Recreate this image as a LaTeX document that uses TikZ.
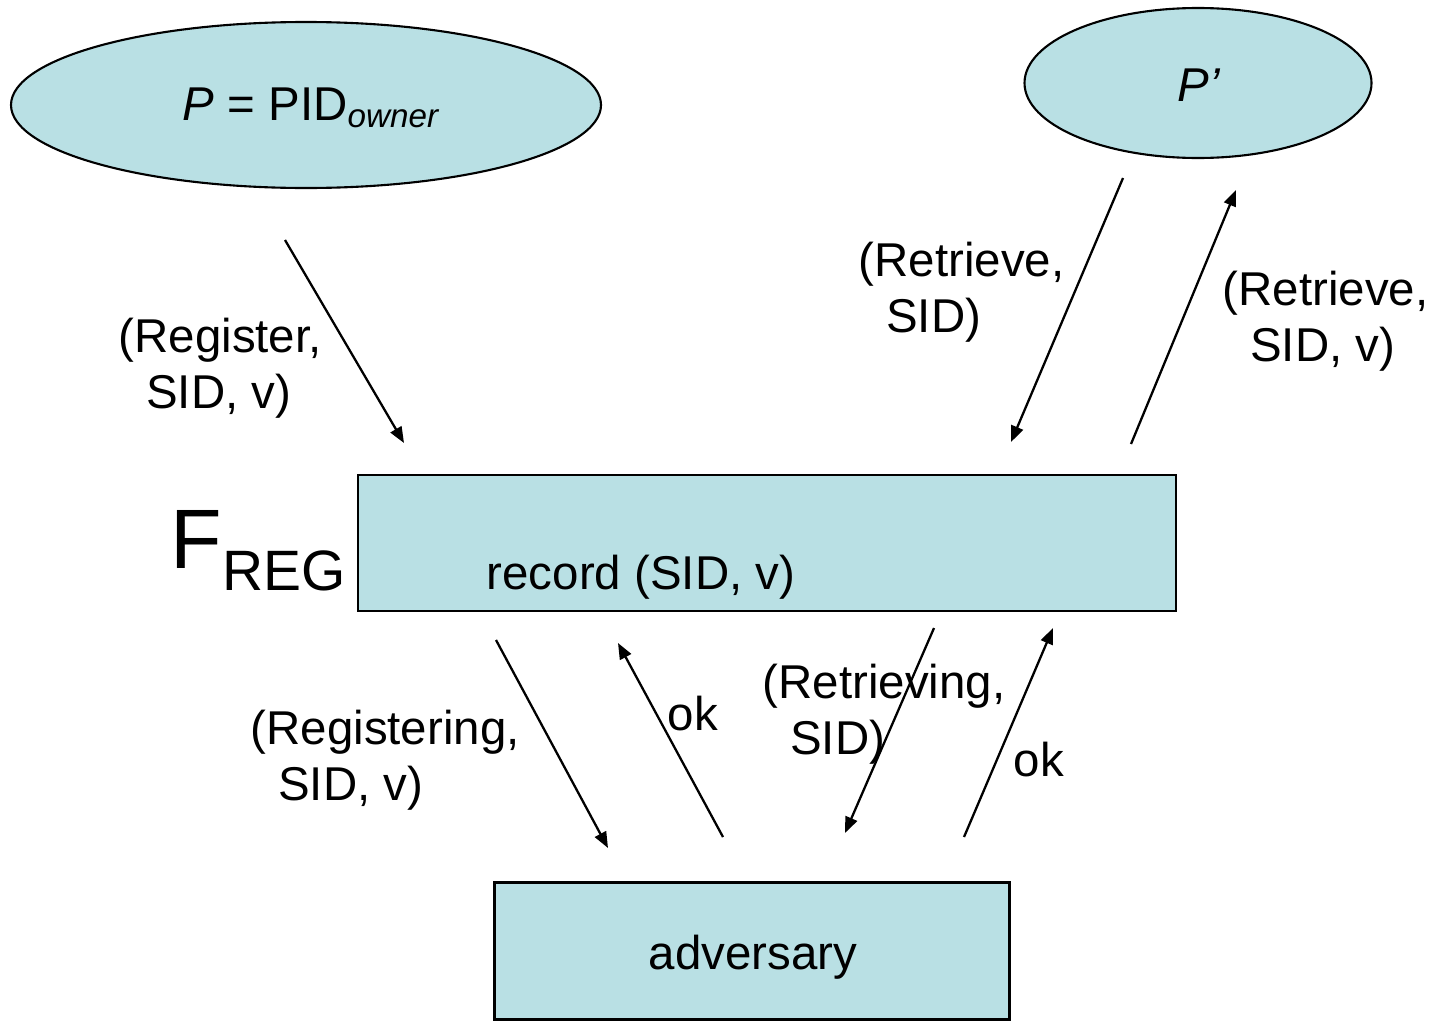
\documentclass[tikz,border=0pt]{standalone}
\usepackage{fontspec}
\setmainfont{Liberation Sans}
\usetikzlibrary{shapes.geometric, arrows.meta, positioning}
\definecolor{boxfill}{RGB}{185,224,228}

\begin{document}
\begin{tikzpicture}[x=0.1mm, y=-0.1mm, font=\fontsize{13.5}{15.8}\selectfont,
    party/.style={ellipse, draw, fill=boxfill, line width=0.6pt, inner sep=0pt},
    func/.style={rectangle, draw, fill=boxfill, line width=0.6pt, inner sep=0pt},
    msg/.style={line width=0.65pt, -{Triangle[length=1.6mm, width=1.25mm]}},
    lbl/.style={anchor=west, align=left, inner sep=0pt}]

            \useasboundingbox (0,0) rectangle (1440,1021);

            % Parties
            \node[party, minimum width=59mm, minimum height=16.6mm] (owner) at (306,105) {};
            \node (ownertext) at (312,108) {\textit{P} = PID\textsubscript{\textit{owner}}};
            \node[party, minimum width=34.7mm, minimum height=15mm] (other) at (1198,83) {};
            \node (othertext) at (1199,85) {\textit{P’}};

            % Ideal functionality
            \node[func, minimum width=81.8mm, minimum height=13.6mm] (freg) at (767,543) {};
            \node (record) at (641,577) {record (SID, v)};
            \node[anchor=base west, inner sep=0pt] (fname) at (170,568)
                {{\fontsize{24}{28}\selectfont F}{\fontsize{16.2}{20}\selectfont\raisebox{-6.3pt}{REG}}};

            % Adversary
            \node[func, minimum width=51.5mm, minimum height=13.7mm] (adv) at (752,951) {};
            \node (advtext) at (753,957) {adversary};

            % Arrow end points
            \coordinate (regA) at (285,240);   \coordinate (regB) at (404,443);
            \coordinate (retA) at (1123,178);  \coordinate (retB) at (1011,442);
            \coordinate (ansA) at (1131,444);  \coordinate (ansB) at (1236,190);
            \coordinate (ingA) at (496,640);   \coordinate (ingB) at (608,848);
            \coordinate (okaA) at (723,837);   \coordinate (okaB) at (618,643);
            \coordinate (rvgA) at (934,628);   \coordinate (rvgB) at (845,833);
            \coordinate (okbA) at (964,837);   \coordinate (okbB) at (1053,628);

            % Messages
            \draw[msg] (regA) -- (regB);
            \draw[msg] (retA) -- (retB);
            \draw[msg] (ansA) -- (ansB);
            \draw[msg] (ingA) -- (ingB);
            \draw[msg] (okaA) -- (okaB);
            \draw[msg] (rvgA) -- (rvgB);
            \draw[msg] (okbA) -- (okbB);

            % Labels
            \node[lbl] (regL) at (118,368) {(Register,\\\hspace*{0.58em}SID, v)};
            \node[lbl] (retL) at (858,292) {(Retrieve,\\\hspace*{0.58em}SID)};
            \node[lbl] (ansL) at (1222,321) {(Retrieve,\\\hspace*{0.58em}SID, v)};
            \node[lbl] (ingL) at (250,760) {(Registering,\\\hspace*{0.58em}SID, v)};
            \node[lbl] (rvgL) at (762,714) {(Retrieving,\\\hspace*{0.58em}SID)};
            \node (okaL) at (693,714) {ok};
            \node (okbL) at (1039,760) {ok};

\end{tikzpicture}
\end{document}
